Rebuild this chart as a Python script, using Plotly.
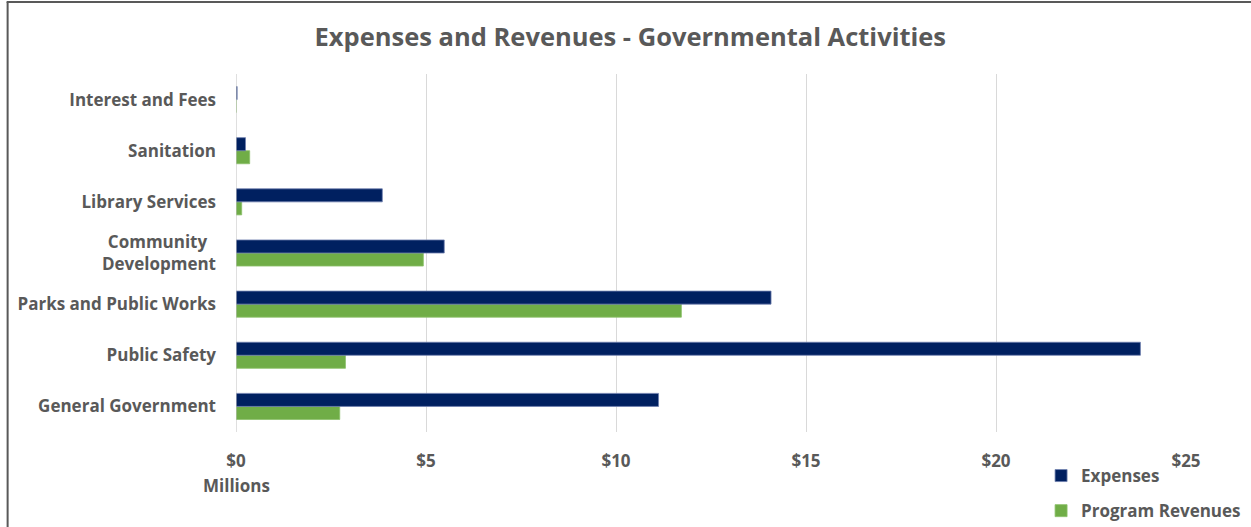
import plotly.graph_objects as go

categories = ["General Government", "Public Safety", "Parks and Public Works",
              "Community\u00a0\u00a0<br>Development", "Library Services", "Sanitation",
              "Interest and Fees"]
expenses = [11.12, 23.80, 14.08, 5.48, 3.85, 0.25, 0.03]
program_revenues = [2.73, 2.88, 11.72, 4.93, 0.15, 0.36, 0.0]
tick_vals = [0, 5, 10, 15, 20, 25]
tick_text = ["$0", "$5", "$10", "$15", "$20", "$25"]

W, H = 1251, 527
L, R, T, B = 235.5, 1186, 74, 432
FONT = "Open Sans"
GRAY = "#595959"

def px_x(px):
    return (px - L) / (R - L)

def px_y(py):
    return (B - py) / (B - T)

fig = go.Figure()
fig.add_trace(go.Bar(
    y=categories, x=program_revenues, orientation="h", name="Program Revenues",
    marker=dict(color="#70AD47", line=dict(color="#8CC06A", width=0.8)),
    legendgroup="rev", legendrank=2,
))
fig.add_trace(go.Bar(
    y=categories, x=expenses, orientation="h", name="Expenses",
    marker=dict(color="#002060", line=dict(color="#6E7FAF", width=0.8)),
    legendgroup="exp", legendrank=1,
))

fig.update_layout(
    width=W, height=H,
    margin=dict(l=L, r=W - R, t=T, b=H - B, autoexpand=False),
    paper_bgcolor="white", plot_bgcolor="white",
    barmode="group", bargap=0.49, bargroupgap=0,
    title=dict(text="Expenses and Revenues - Governmental Activities",
               x=px_x(630), xref="paper", xanchor="center", y=1 - 37 / H, yanchor="middle",
               font=dict(family=FONT, size=25.5, color=GRAY, weight="bold")),
    font=dict(family=FONT, color=GRAY),
    xaxis=dict(range=[0, 25], tickvals=tick_vals, ticktext=tick_text,
               showgrid=True, gridcolor="#D9D9D9", gridwidth=1,
               zeroline=False, showline=False, ticks="",
               ticklabelstandoff=17,
               tickfont=dict(family=FONT, size=17, color=GRAY, weight="bold")),
    yaxis=dict(type="category", showgrid=False, zeroline=False,
               showline=False, ticks="", ticklabelstandoff=19,
               tickfont=dict(family=FONT, size=17, color=GRAY, weight="bold")),
    legend=dict(x=px_x(1041), y=px_y(458), xanchor="left", yanchor="top",
                orientation="v", traceorder="grouped", tracegroupgap=10,
                font=dict(family=FONT, size=17, color=GRAY, weight="bold"),
                bgcolor="rgba(0,0,0,0)", itemwidth=30),
    showlegend=True,
)

# vertical zero axis line
fig.add_shape(type="line", xref="x", yref="paper", x0=0, x1=0, y0=0, y1=1,
              line=dict(color="#BFBFBF", width=1))

fig.add_annotation(text="Millions", xref="x", yref="paper", x=0, y=px_y(485),
                   xanchor="center", yanchor="middle", showarrow=False,
                   font=dict(family=FONT, size=17, color=GRAY, weight="bold"))

# frame lines of the original picture
fig.add_shape(type="line", xref="paper", yref="paper",
              x0=px_x(6), x1=px_x(1251), y0=px_y(2), y1=px_y(2),
              line=dict(color="#595959", width=2))
fig.add_shape(type="line", xref="paper", yref="paper",
              x0=px_x(7), x1=px_x(7), y0=px_y(2), y1=px_y(527),
              line=dict(color="#595959", width=2))

fig.write_html("out.html", config={"displayModeBar": False},
               post_script="document.body.style.margin='0';document.body.style.overflow='hidden';")
